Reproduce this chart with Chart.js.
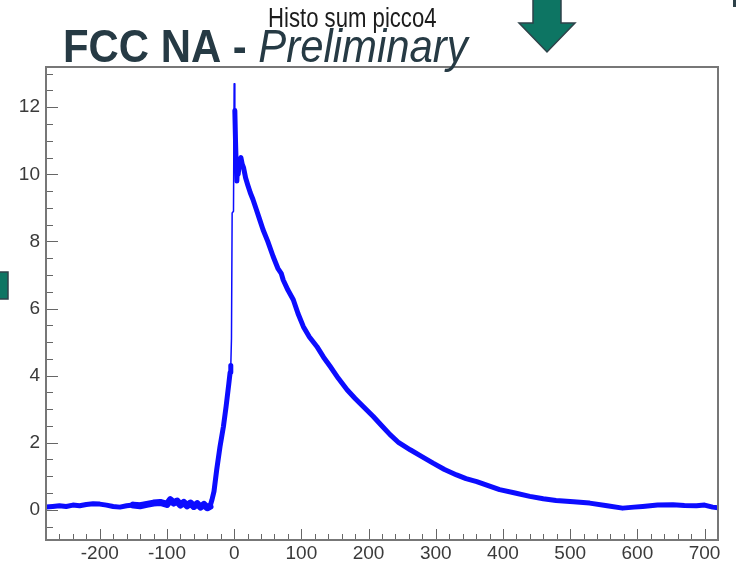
<!DOCTYPE html>
<html>
<head>
<meta charset="utf-8">
<script src="https://cdn.jsdelivr.net/npm/chart.js@4.4.0/dist/chart.umd.min.js"></script>
<style>
  html, body { margin: 0; padding: 0; background: #fff; }
</style>
</head>
<body>
<canvas id="myChart" width="737" height="565"></canvas>
<script>
// Values (bin centre, summed amplitude)
const timeBins = [
  -280, -270, -260, -250, -240, -230, -220, -210, -200, -190,
  -180, -170, -160, -150, -140, -130, -120, -110, -100, -95,
  -90, -85, -80, -75, -70, -65, -60, -55, -50, -45,
  -40, -36, -33, -30, -26, -21, -16, -12, -8, -6,
  -5, -4, -3, -1, 0, 1, 2, 3, 4, 5,
  6, 8, 10, 12, 14, 17, 20, 24, 28, 33,
  38, 43, 50, 58, 65, 70, 73, 80, 88, 95,
  103, 112, 123, 133, 143, 155, 168, 180, 192, 207,
  220, 232, 245, 262, 280, 296, 313, 331, 345, 361,
  378, 395, 418, 440, 460, 479, 505, 529, 555, 578,
  595, 608, 630, 653, 670, 688, 700, 712, 720
];
const sumValues = [
  0.08, 0.10, 0.12, 0.10, 0.14, 0.12, 0.16, 0.18, 0.17, 0.14,
  0.10, 0.08, 0.12, 0.14, 0.12, 0.16, 0.20, 0.22, 0.16, 0.30,
  0.20, 0.26, 0.14, 0.22, 0.12, 0.20, 0.10, 0.18, 0.08, 0.16,
  0.06, 0.10, 0.30, 0.55, 1.19, 1.89, 2.48, 3.08, 3.75, 4.10,
  4.30, 5.10, 8.85, 8.90, 12.70, 11.90, 11.00, 10.30, 9.80, 10.30,
  10.00, 10.40, 10.50, 10.30, 10.20, 9.90, 9.70, 9.45, 9.25, 8.95,
  8.65, 8.35, 8.00, 7.55, 7.20, 7.05, 6.85, 6.55, 6.26, 5.85,
  5.46, 5.15, 4.87, 4.55, 4.27, 3.92, 3.58, 3.32, 3.08, 2.78,
  2.50, 2.24, 2.00, 1.79, 1.58, 1.39, 1.20, 1.04, 0.93, 0.84,
  0.72, 0.60, 0.50, 0.40, 0.33, 0.28, 0.24, 0.20, 0.12, 0.05,
  0.08, 0.10, 0.14, 0.15, 0.13, 0.12, 0.14, 0.08, 0.06
];
const xTickValues = [-200, -100, 0, 100, 200, 300, 400, 500, 600, 700];
const yTickValues = [0, 2, 4, 6, 8, 10, 12];
const histoName = 'Histo sum picco4';

const labelFont = { family: '"Liberation Sans", Arial, sans-serif', size: 19 };

// narrow text, like the slide fonts
function squeezeText(ctx, text, x, y, sx) {
  ctx.save();
  ctx.translate(x, y);
  ctx.scale(sx, 1);
  ctx.fillText(text, 0, 0);
  const w = ctx.measureText(text).width * sx;
  ctx.restore();
  return w;
}

// ROOT style: frame plus ticks pointing into the plot
const frameTicks = {
  id: 'frameTicks',
  afterDatasetsDraw(chart) {
    const { ctx, chartArea: a, scales: { x, y } } = chart;
    ctx.save();
    ctx.strokeStyle = '#666';
    ctx.lineWidth = 1;
    ctx.beginPath();
    for (let v = Math.ceil(x.min / 20) * 20; v <= x.max; v += 20) {
      const px = Math.round(x.getPixelForValue(v)) + 0.5;
      const len = v % 100 === 0 ? 11 : 6;
      ctx.moveTo(px, a.bottom);
      ctx.lineTo(px, a.bottom - len);
    }
    for (let v = Math.ceil(y.min * 2) / 2; v <= y.max; v += 0.5) {
      const py = Math.round(y.getPixelForValue(v)) + 0.5;
      const len = v % 2 === 0 ? 12 : 7;
      ctx.moveTo(a.left, py);
      ctx.lineTo(a.left + len, py);
    }
    ctx.stroke();
    ctx.strokeStyle = '#777';
    ctx.lineWidth = 2;
    ctx.strokeRect(a.left, a.top, a.right - a.left, a.bottom - a.top);
    ctx.restore();
  }
};

// slide overlay: histogram name, title and the green arrows
const slideBits = {
  id: 'slideBits',
  afterDraw(chart) {
    const ctx = chart.ctx;
    ctx.save();
    ctx.textBaseline = 'alphabetic';
    ctx.fillStyle = '#1c1c1c';
    ctx.font = '27px "Liberation Sans", Arial, sans-serif';
    squeezeText(ctx, histoName, 268, 27, 0.82);

    ctx.fillStyle = '#263a44';
    ctx.font = 'bold 46px "Liberation Sans", Arial, sans-serif';
    const w = squeezeText(ctx, 'FCC NA - ', 63, 62, 0.91);
    ctx.font = 'italic 46px "Liberation Sans", Arial, sans-serif';
    squeezeText(ctx, 'Preliminary', 63 + w, 62, 0.91);

    ctx.fillStyle = '#0d7563';
    ctx.strokeStyle = '#2e4249';
    ctx.lineWidth = 1.5;
    ctx.beginPath();
    ctx.moveTo(533, -2);
    ctx.lineTo(561, -2);
    ctx.lineTo(561, 23);
    ctx.lineTo(575, 23);
    ctx.lineTo(547, 52);
    ctx.lineTo(519, 23);
    ctx.lineTo(533, 23);
    ctx.closePath();
    ctx.fill();
    ctx.stroke();

    ctx.beginPath();
    ctx.rect(-2, 272, 10, 27);
    ctx.fill();
    ctx.stroke();

    ctx.fillStyle = '#2e4249';
    ctx.fillRect(733, 0, 3, 7);
    ctx.restore();
  }
};

var ctx = document.getElementById('myChart');

var myChart = new Chart(ctx, {
  type: 'line',
  data: {
    datasets: [{
      data: timeBins.map((t, i) => ({ x: t, y: sumValues[i] })),
      borderColor: 'rgb(12, 12, 255)',
      borderWidth: 5,
      borderJoinStyle: 'round',
      borderCapStyle: 'round',
      pointRadius: 0,
      tension: 0,
      segment: {
        borderWidth: c => {
          const a = c.p0.parsed.x, b = c.p1.parsed.x;
          if (a >= -5 && b <= 1) return 1.5;
          if (a >= -150 && b <= -36) return 7;
          return 5;
        }
      }
    }]
  },
  options: {
    responsive: false,
    animation: false,
    layout: { padding: { top: 67, right: 19, left: 0, bottom: 0 } },
    plugins: { legend: { display: false }, tooltip: { enabled: false } },
    scales: {
      x: {
        type: 'linear',
        min: -280,
        max: 720,
        afterBuildTicks: s => { s.ticks = xTickValues.map(v => ({ value: v })); },
        afterFit: s => { s.height = 25; },
        grid: { display: false, drawTicks: false },
        border: { display: false },
        ticks: { autoSkip: false, maxRotation: 0, padding: 2, color: '#3a3a3a', font: labelFont }
      },
      y: {
        min: -0.9,
        max: 13.2,
        afterBuildTicks: s => { s.ticks = yTickValues.map(v => ({ value: v })); },
        afterFit: s => { s.width = 46; },
        grid: { display: false, drawTicks: false },
        border: { display: false },
        ticks: { padding: 6, color: '#3a3a3a', font: labelFont }
      }
    }
  },
  plugins: [frameTicks, slideBits]
});
</script>
</body>
</html>
